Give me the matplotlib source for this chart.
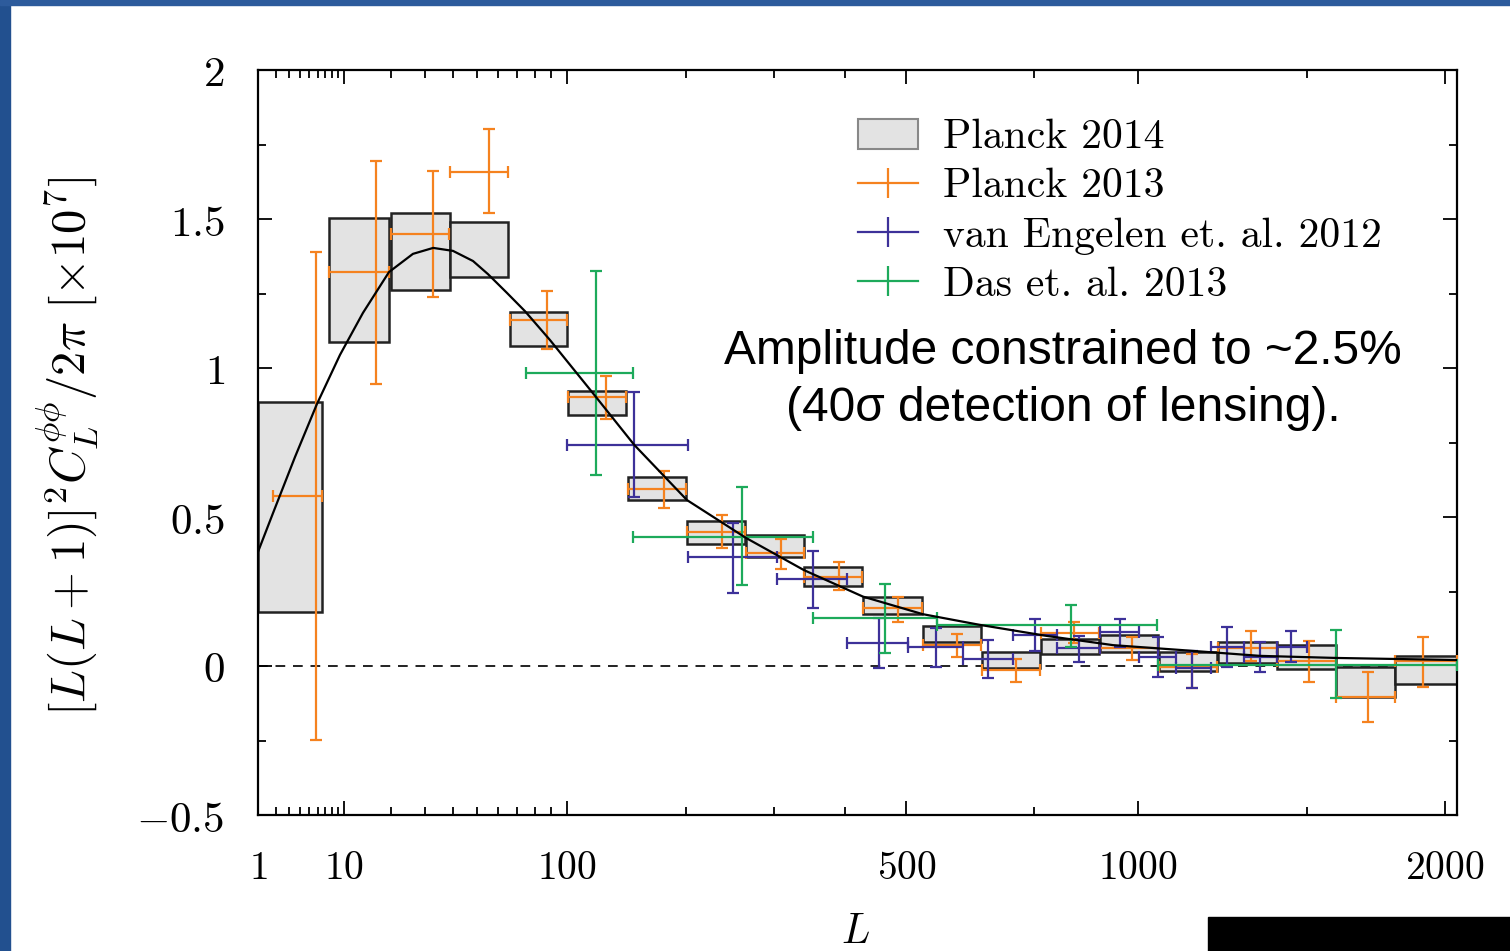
import numpy as np
import matplotlib
matplotlib.use('Agg')
import matplotlib.pyplot as plt
from matplotlib.patches import Patch, Rectangle
from matplotlib.lines import Line2D
from matplotlib.ticker import FixedLocator, FixedFormatter

plt.rcParams['mathtext.fontset'] = 'cm'

# ---- Planck 2014 (gray boxes): bin edges and band limits ----
pl14_lo = [1, 7.5, 20, 39, 66, 101, 146, 201, 266, 341, 428, 529, 641, 766, 904, 1056, 1222, 1404, 1600, 1811]
pl14_hi = [6.5, 19.5, 39, 65, 100, 145, 200, 265, 340, 427, 528, 640, 765, 903, 1055, 1221, 1403, 1599, 1810, 2048]
pl14_top = [0.887, 1.502, 1.520, 1.489, 1.187, 0.923, 0.635, 0.488, 0.440, 0.333,
            0.233, 0.134, 0.048, 0.091, 0.104, 0.048, 0.080, 0.070, -0.004, 0.034]
pl14_bot = [0.182, 1.086, 1.262, 1.306, 1.074, 0.841, 0.557, 0.409, 0.365, 0.268,
            0.174, 0.080, -0.008, 0.040, 0.048, -0.016, 0.009, -0.011, -0.103, -0.061]

# ---- Planck 2013 (orange) ----
pl13_L = [5.75, 16.3, 32.8, 55.8, 87.5, 128.2, 178.3, 238.4, 309.2, 391.5,
          484.9, 591.5, 711, 843, 985, 1148, 1321, 1508, 1713, 1917]
pl13_Llo = [1.8, 7.5, 20, 39, 66, 101, 146, 201, 266, 341, 428, 529, 641, 766, 904, 1056, 1222, 1404, 1600, 1811]
pl13_Lhi = [6.5, 19.5, 38.5, 65, 100, 145, 200, 265, 340, 427, 528, 640, 765, 903, 1055, 1221, 1403, 1599, 1810, 2048]
pl13_v = [0.570, 1.323, 1.451, 1.659, 1.161, 0.902, 0.594, 0.451, 0.378, 0.298,
          0.196, 0.070, -0.013, 0.112, 0.061, -0.004, 0.059, 0.017, -0.104, 0.017]
pl13_hi = [1.390, 1.696, 1.662, 1.801, 1.259, 0.974, 0.655, 0.507, 0.426, 0.348,
           0.233, 0.107, 0.022, 0.147, 0.098, 0.040, 0.117, 0.085, -0.021, 0.098]
pl13_lo = [-0.248, 0.945, 1.237, 1.519, 1.063, 0.828, 0.529, 0.395, 0.324, 0.255,
           0.149, 0.029, -0.053, 0.076, 0.020, -0.073, 0.017, -0.053, -0.189, -0.071]

# ---- van Engelen et al. 2012 (purple) ----
ve_L = [151.6, 251, 352.8, 453.9, 552.6, 653.5, 752.7, 853.5, 954, 1054, 1149, 1250, 1350, 1448]
ve_Llo = [100, 201.5, 304, 402.6, 503, 602.9, 705.6, 801.4, 904, 1004, 1104, 1202, 1300, 1402]
ve_Lhi = [201.5, 304, 402.6, 503, 602.9, 705.6, 801.4, 904, 1004, 1104, 1202, 1300, 1402, 1500]
ve_v = [0.742, 0.367, 0.292, 0.076, 0.063, 0.023, 0.104, 0.059, 0.115, 0.031, -0.008, 0.065, 0.031, 0.065]
ve_hi = [0.918, 0.481, 0.387, 0.160, 0.126, 0.087, 0.158, 0.101, 0.158, 0.098, 0.050, 0.132, 0.082, 0.117]
ve_lo = [0.568, 0.246, 0.194, -0.008, -0.004, -0.041, 0.051, 0.014, 0.065, -0.038, -0.075, -0.004, -0.021, 0.015]

# ---- Das et al. 2013 (green) ----
das_L = [120.6, 261.5, 463.8, 834, 1600]
das_Llo = [74.7, 150.8, 353.5, 554, 1053]
das_Lhi = [150.8, 353.5, 554, 1052, 2048]
das_v = [0.982, 0.434, 0.162, 0.138, 0.005]
das_hi = [1.326, 0.600, 0.274, 0.205, 0.121]
das_lo = [0.641, 0.272, 0.043, 0.065, -0.108]

# ---- theory curve ----
th_L = [1, 1.8, 3.5, 5.9, 9.25, 13.5, 19.5, 26.2, 32.8, 40.1, 48.4, 55.2, 64.6, 74.3, 89.2, 118.5,
        151.6, 200.8, 265.8, 340.4, 427.8, 528.7, 637, 779, 937, 1113, 1350, 1600, 2048]
th_v = [0.383, 0.513, 0.701, 0.879, 1.044, 1.185, 1.322, 1.383, 1.403, 1.393, 1.359, 1.315, 1.252,
        1.191, 1.094, 0.916, 0.742, 0.557, 0.430, 0.322, 0.233, 0.174, 0.138, 0.101, 0.070, 0.054,
        0.034, 0.027, 0.020]

x_major = [1, 10, 100, 500, 1000, 2000]
x_minor = [2, 3, 4, 5, 6, 7, 8, 9, 20, 30, 40, 50, 60, 70, 80, 90, 200, 300, 400, 750, 1500]
y_major = [-0.5, 0, 0.5, 1, 1.5, 2]
y_labels = ['$-0.5$', '$0$', '$0.5$', '$1$', '$1.5$', '$2$']

c_orange = '#f5821f'
c_purple = '#3d3199'
c_green = '#1daa5b'

POW = 0.41


def fwd(x):
    return np.power(np.clip(x, 1e-9, None), POW)


def inv(v):
    return np.power(np.clip(v, 0, None), 1.0 / POW)


def plot_err(ax, L, Llo, Lhi, v, lo, hi, color, z):
    L = np.array(L); v = np.array(v)
    xerr = [L - np.array(Llo), np.array(Lhi) - L]
    yerr = [v - np.array(lo), np.array(hi) - v]
    ax.errorbar(L, v, xerr=xerr, yerr=yerr, fmt='none', ecolor=color,
                elinewidth=1.6, capsize=4.3, capthick=1.6, zorder=z)


fig = plt.figure(figsize=(15.1, 9.51), dpi=100)
ax = fig.add_axes([258 / 1510, 1 - 815 / 951, (1457 - 258) / 1510, (815 - 70) / 951])
ax.set_xscale('function', functions=(fwd, inv))

lo = np.array(pl14_lo); hi = np.array(pl14_hi)
top = np.array(pl14_top); bot = np.array(pl14_bot)
ax.bar(lo, top - bot, width=hi - lo, bottom=bot, align='edge',
       color='#e3e3e3', edgecolor='#222222', linewidth=1.8, zorder=2)

ax.axhline(0, color='#222222', lw=1.4, ls=(0, (5, 4)), zorder=1)

plot_err(ax, pl13_L, pl13_Llo, pl13_Lhi, pl13_v, pl13_lo, pl13_hi, c_orange, 3)
plot_err(ax, ve_L, ve_Llo, ve_Lhi, ve_v, ve_lo, ve_hi, c_purple, 3)
plot_err(ax, das_L, das_Llo, das_Lhi, das_v, das_lo, das_hi, c_green, 3)

ax.plot(th_L, th_v, color='black', lw=1.6, zorder=4)

ax.set_xlim(1, 2048)
ax.set_ylim(-0.5, 2)

ax.xaxis.set_major_locator(FixedLocator(x_major))
ax.xaxis.set_major_formatter(FixedFormatter(['$%d$' % t for t in x_major]))
ax.xaxis.set_minor_locator(FixedLocator(x_minor))
ax.xaxis.set_minor_formatter(FixedFormatter([''] * len(x_minor)))
ax.yaxis.set_major_locator(FixedLocator(y_major))
ax.yaxis.set_major_formatter(FixedFormatter(y_labels))
ax.yaxis.set_minor_locator(FixedLocator(np.arange(-0.5, 2.01, 0.25)))

ax.tick_params(which='both', direction='in', top=True, right=True, width=1.3, pad=24)
ax.tick_params(axis='x', labelsize=28.5)
ax.tick_params(axis='y', labelsize=31)
ax.tick_params(which='major', length=10)
ax.tick_params(which='minor', length=6)
for s in ax.spines.values():
    s.set_linewidth(1.6)

ax.set_ylabel(r'$[L(L+1)]^2C_L^{\phi\phi}/2\pi\ [\times 10^7]$', fontsize=35)
ax.yaxis.set_label_coords(-0.132, 0.495)
ax.set_xlabel('$L$', fontsize=30)
ax.xaxis.set_label_coords(0.498, -0.128)

handles = [Patch(facecolor='#e3e3e3', edgecolor='#888888', linewidth=1.5),
           Line2D([], [], color=c_orange, lw=1.6, marker='|', markersize=22, markeredgewidth=1.6),
           Line2D([], [], color=c_purple, lw=1.6, marker='|', markersize=22, markeredgewidth=1.6),
           Line2D([], [], color=c_green, lw=1.6, marker='|', markersize=22, markeredgewidth=1.6)]
labels = ['Planck 2014', 'Planck 2013', 'van Engelen et. al. 2012', 'Das et. al. 2013']
ax.legend(handles, labels, loc='upper left', bbox_to_anchor=(837 / 1510, 1 - 98 / 951),
          bbox_transform=fig.transFigure, frameon=False, prop={'family': 'cmr10', 'size': 30},
          handlelength=1.44, handleheight=0.72, handletextpad=0.6, labelspacing=0.28, borderpad=0)

fig.text(1063 / 1510, 1 - 380 / 951, 'Amplitude constrained to ~2.5%\n(40\u03c3 detection of lensing).',
         ha='center', va='center', fontsize=34.5, family='Liberation Sans', linespacing=1.34)

# slide frame around the figure
fig.patches.append(Rectangle((0, 0), 10 / 1510, 1, transform=fig.transFigure, color='#22508f', zorder=10))
fig.patches.append(Rectangle((0, 1 - 5 / 951), 1, 5 / 951, transform=fig.transFigure, color='#2d5b9c', zorder=10))
fig.patches.append(Rectangle((1208 / 1510, 0), 302 / 1510, 34 / 951, transform=fig.transFigure, color='black', zorder=10))

fig.savefig('out.png', dpi=100)
